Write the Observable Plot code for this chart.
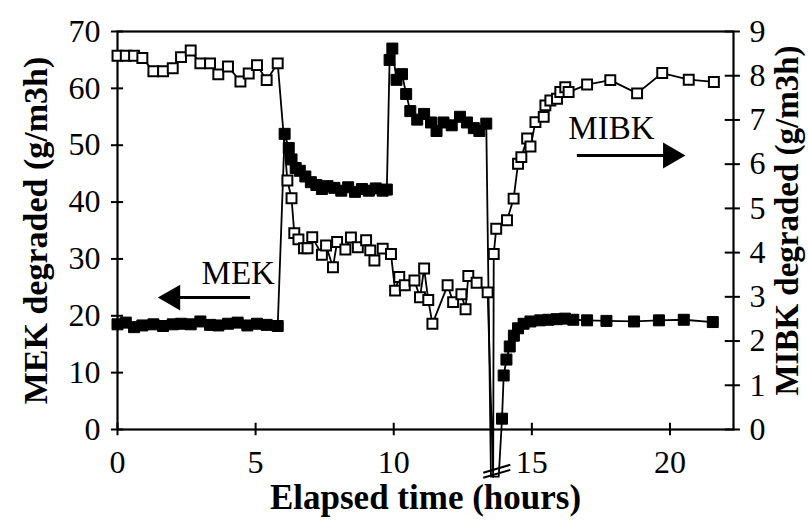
<!DOCTYPE html>
<html><head><meta charset="utf-8">
<script src="https://cdn.jsdelivr.net/npm/d3@7"></script>
<script src="https://cdn.jsdelivr.net/npm/@observablehq/plot@0.6"></script>
<style>body{margin:0;background:#fff} svg{display:block}</style>
</head><body><div id="chart"></div>
<script>
// ---- data (hours, g/m3h) ----
const mekTime = [0,0.3,0.6,0.9,1.3,1.65,2.0,2.3,2.65,3.0,3.35,3.65,4.0,4.35,4.7,5.05,5.4,5.8,
  6.05,6.2,6.3,6.45,6.6,6.8,7.0,7.2,7.4,7.6,7.85,8.1,8.35,8.6,8.85,9.1,9.35,9.6,9.75,
  9.85,9.95,10.1,10.3,10.45,10.6,10.85,11.1,11.35,11.55,11.8,12.1,12.4,12.65,12.9,13.1,13.35,
  13.92,13.98,14.08,14.2,14.35,14.5,14.7,14.95,15.3,15.6,15.9,16.2,16.5,17.0,17.7,18.7,19.6,20.5,21.55];
const mekValue = [18.5,18.8,18.0,18.3,18.5,18.2,18.5,18.6,18.5,19.0,18.4,18.3,18.6,18.8,18.3,18.6,18.4,18.2,
  52,49.5,47.5,46,45.5,44.5,43.5,43,42.3,42.8,42.5,42,42.6,41.8,42.3,42,42.4,42,42.2,
  65,67,61.5,62.5,59,56,54.5,55.5,54,52.5,54,53.5,55,54,53,52.5,53.8,
  1.9,9.5,12.3,14.6,16.5,17.8,18.6,19.0,19.2,19.3,19.4,19.5,19.3,19.2,19.1,19.0,19.2,19.3,18.9];
const mibkTime = [0,0.3,0.6,0.9,1.3,1.65,2.0,2.3,2.65,3.0,3.35,3.65,4.0,4.45,4.75,5.05,5.4,5.8,
  6.15,6.3,6.4,6.55,6.75,6.88,7.05,7.4,7.55,7.8,7.95,8.25,8.45,8.7,9.0,9.15,9.3,9.6,9.9,
  10.05,10.2,10.4,10.75,10.95,11.1,11.25,11.4,11.95,12.15,12.45,12.6,12.7,13.0,13.4,
  13.62,13.71,14.1,14.34,14.5,14.62,14.83,14.95,15.13,15.43,15.49,15.67,15.91,16.03,16.21,16.33,17.0,17.84,18.81,19.72,20.68,21.59];
const mibkValue = [8.45,8.45,8.45,8.4,8.1,8.1,8.17,8.42,8.57,8.28,8.28,8.03,8.21,7.87,8.05,8.24,7.9,8.28,
  5.63,5.23,4.44,4.30,4.10,4.10,4.35,3.95,4.16,3.67,4.24,4.07,4.34,4.12,4.28,4.05,3.82,4.09,3.97,
  3.14,3.45,3.26,3.37,2.99,3.64,2.93,2.39,3.26,2.88,3.06,2.72,3.47,3.32,3.10,
  3.97,4.54,4.73,5.22,6.01,6.16,6.58,6.40,6.95,7.07,7.33,7.44,7.48,7.63,7.74,7.63,7.80,7.90,7.60,8.06,7.91,7.86];
// line path points at the axis break (no marker)
const mekBreakTime = [13.52, 13.8];
const mekBreakValue = [-8.3, -8.3];
const mibkBreakTime = [13.6];
const mibkBreakValue = [-1.07];
// axis ticks
const timeTicks = [0,5,10,15,20];
const mekTicks = [0,10,20,30,40,50,60,70];
const mibkTicks = [0,1,2,3,4,5,6,7,8,9];
// annotations
const labels = [{t:4.37, v:27.4, text:"MEK"}, {t:17.88, v:52.9, text:"MIBK"}];
const arrowLines = [{t1:2.1, t2:4.8, v:23.2}, {t1:16.63, t2:19.9, v:48.2}];
const arrowHeads = [{t:2.0, v:23.2, rot:-90}, {t:20.02, v:48.2, rot:90}];
const breakTime = [13.24, 14.22];

// ---- build ----
const XMAX = 22.3, MEKMAX = 70, MIBKMAX = 9, k = MEKMAX / MIBKMAX;
const mek = mekTime.map((t,i)=>({t, v: mekValue[i]}));
const mibk = mibkTime.map((t,i)=>({t, v: mibkValue[i]*k}));
const mekLine = mek.concat(mekBreakTime.map((t,i)=>({t, v: mekBreakValue[i]}))).sort((a,b)=>a.t-b.t);
const mibkLine = mibk.concat(mibkBreakTime.map((t,i)=>({t, v: mibkBreakValue[i]*k}))).sort((a,b)=>a.t-b.t);
const breakMarks = [
  {t1: breakTime[0], v1: -7.6, t2: breakTime[1], v2: -6.2},
  {t1: breakTime[0], v1: -8.5, t2: breakTime[1], v2: -7.1}
];
const font = "'Liberation Serif','Times New Roman',serif";

const chart = Plot.plot({
  width: 808, height: 523,
  marginLeft: 117, marginRight: 75, marginTop: 31, marginBottom: 94,
  x: {domain: [0, XMAX]},
  y: {domain: [0, MEKMAX]},
  style: {fontFamily: font, background: "white", color: "black", overflow: "visible"},
  marks: [
    Plot.frame({stroke: "black", strokeWidth: 2.2}),
    // crossing tick marks
    Plot.ruleY(mekTicks, {x1: -0.22, x2: 0.22, stroke: "black", strokeWidth: 2}),
    Plot.ruleY(mibkTicks.map(d=>d*k), {x1: XMAX-0.3, x2: XMAX+0.25, stroke: "black", strokeWidth: 2}),
    Plot.ruleX(timeTicks, {y1: -1.1, y2: 1.1, stroke: "black", strokeWidth: 2}),
    Plot.axisY(mekTicks, {anchor: "left", tickSize: 0, tickPadding: 17, fontSize: 32, label: null}),
    Plot.axisY(mibkTicks.map(d=>d*k), {anchor: "right", tickSize: 0, tickPadding: 16, fontSize: 32, label: null,
      tickFormat: d => String(Math.round(d / k))}),
    Plot.axisX(timeTicks, {tickSize: 0, tickPadding: 21, fontSize: 32, label: null}),
    Plot.text(["MEK degraded (g/m3h)"], {frameAnchor: "left", dx: -81, rotate: -90, fontSize: 34, fontWeight: "bold",
      textAnchor: "middle", lineAnchor: "middle"}),
    Plot.text(["MIBK degraded (g/m3h)"], {frameAnchor: "right", dx: 54, dy: -10, rotate: -90, fontSize: 33, fontWeight: "bold",
      textAnchor: "middle", lineAnchor: "middle"}),
    Plot.text(["Elapsed time (hours)"], {frameAnchor: "bottom", dy: 68, fontSize: 35, fontWeight: "bold",
      textAnchor: "middle", lineAnchor: "middle"}),
    // data lines
    Plot.line(mekLine, {x: "t", y: "v", stroke: "black", strokeWidth: 1.8}),
    Plot.line(mibkLine, {x: "t", y: "v", stroke: "black", strokeWidth: 1.8}),
    // break symbol
    Plot.link(breakMarks, {x1: "t1", y1: "v1", x2: "t2", y2: "v2", stroke: "black", strokeWidth: 2}),
    // markers
    Plot.dot(mibk, {x: "t", y: "v", symbol: "square", r: 5.6, fill: "white", stroke: "black", strokeWidth: 2}),
    Plot.dot(mek, {x: "t", y: "v", symbol: "square", r: 6.2, fill: "black", stroke: "black", strokeWidth: 1}),
    // annotations
    Plot.text(labels, {x: "t", y: "v", text: "text", fontSize: 33}),
    Plot.link(arrowLines, {x1: "t1", x2: "t2", y1: "v", y2: "v", stroke: "black", strokeWidth: 3}),
    Plot.dot(arrowHeads, {x: "t", y: "v", symbol: "triangle", r: 9.6, rotate: "rot", fill: "black", stroke: "none"})
  ]
});
document.getElementById("chart").appendChild(chart);
</script>
</body></html>
